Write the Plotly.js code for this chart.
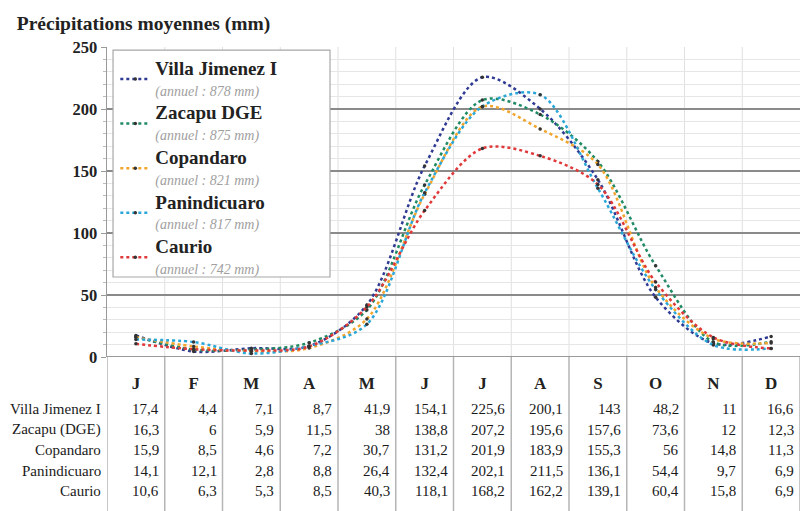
<!DOCTYPE html>
<html>
<head>
<meta charset="utf-8">
<script src="https://cdn.plot.ly/plotly-3.0.1.min.js"></script>
<style>html,body{margin:0;padding:0;background:#fff;}#chart{width:800px;height:511px;}</style>
</head>
<body>
<div id="chart"></div>
<script>
const months = ['J','F','M','A','M','J','J','A','S','O','N','D'];
const stations = ['Villa Jimenez I','Zacapu DGE','Copandaro','Panindicuaro','Caurio'];
const tableLabels = ['Villa Jimenez I','Zacapu (DGE)','Copandaro','Panindicuaro','Caurio'];
const annual = [878, 875, 821, 817, 742];
const villaJimenez = [17.4, 4.4, 7.1, 8.7, 41.9, 154.1, 225.6, 200.1, 143, 48.2, 11, 16.6];
const zacapu = [16.3, 6, 5.9, 11.5, 38, 138.8, 207.2, 195.6, 157.6, 73.6, 12, 12.3];
const copandaro = [15.9, 8.5, 4.6, 7.2, 30.7, 131.2, 201.9, 183.9, 155.3, 56, 14.8, 11.3];
const panindicuaro = [14.1, 12.1, 2.8, 8.8, 26.4, 132.4, 202.1, 211.5, 136.1, 54.4, 9.7, 6.9];
const caurio = [10.6, 6.3, 5.3, 8.5, 40.3, 118.1, 168.2, 162.2, 139.1, 60.4, 15.8, 6.9];
const yTicks = [0, 50, 100, 150, 200, 250];

const series = [villaJimenez, zacapu, copandaro, panindicuaro, caurio];
const colors = ['#2f3a93', '#1f8a63', '#f2a52c', '#2aa7d8', '#e0393a'];
const xIdx = months.map((m, i) => i);

const SERIF = '"Liberation Serif", "DejaVu Serif", serif';

const traces = series.map((vals, k) => ({
  type: 'scatter',
  mode: 'lines+markers',
  x: xIdx,
  y: vals,
  name: '<span style="font-size:19px"><b>' + stations[k] + '</b></span><br><span style="font-size:14px;color:#a0a0a0"><i>(annuel : ' + annual[k] + ' mm)</i></span>',
  line: {color: colors[k], width: 2.5, dash: 'dot', shape: 'spline', smoothing: 0.9},
  marker: {size: 3.5, color: '#333'},
  hoverinfo: 'skip'
}));

const fmt = v => String(v).replace('.', ',');
const rowY = [-0.168, -0.235, -0.300, -0.368, -0.432];
const annotations = [];
series.forEach((vals, r) => {
  annotations.push({
    xref: 'paper', yref: 'paper', x: 0, y: rowY[r], xanchor: 'right', yanchor: 'middle',
    xshift: -4, text: tableLabels[r], showarrow: false,
    font: {family: SERIF, size: 15, color: '#1a1a1a'}
  });
  vals.forEach((v, i) => {
    annotations.push({
      xref: 'x', yref: 'paper', x: i + 0.5, y: rowY[r], xanchor: 'right', yanchor: 'middle',
      xshift: -4, text: fmt(v), showarrow: false,
      font: {family: SERIF, size: 15, color: '#1a1a1a'}
    });
  });
});

const shapes = [];
for (let i = 0; i <= months.length; i++) {
  shapes.push({
    type: 'line', xref: 'x', yref: 'paper', x0: i - 0.5, x1: i - 0.5, y0: 0, y1: -0.5,
    line: {color: '#b5b5b5', width: 1.5}, layer: 'above'
  });
}
// light vertical gridlines at column boundaries inside the plot
for (let i = 1; i < months.length; i++) {
  shapes.push({
    type: 'line', xref: 'x', yref: 'y', x0: i - 0.5, x1: i - 0.5, y0: 0, y1: 250,
    line: {color: '#e0e0e0', width: 1}, layer: 'below'
  });
}
// zero line
shapes.push({type: 'line', xref: 'paper', yref: 'y', x0: 0, x1: 1, y0: 0, y1: 0, line: {color: '#7a7a7a', width: 1.5}, layer: 'above'});
// legend box
shapes.push({type: 'rect', xref: 'paper', yref: 'paper', x0: 0.0087, x1: 0.3218, y0: 0.258, y1: 0.99,
  fillcolor: '#ffffff', line: {color: '#a8a8a8', width: 1.2}, layer: 'above'});

const layout = {
  width: 800, height: 511,
  margin: {l: 107, r: 0, t: 47, b: 154, pad: 0},
  paper_bgcolor: '#fff', plot_bgcolor: '#fff',
  title: {
    text: '<b>Précipitations moyennes (mm)</b>',
    xref: 'container', yref: 'container', x: 0.021, y: 0.955, xanchor: 'left', yanchor: 'middle',
    font: {family: SERIF, size: 19.5, color: '#222'}
  },
  showlegend: true,
  legend: {
    x: 0.012, y: 0.985, xanchor: 'left', yanchor: 'top',
    bgcolor: 'rgba(0,0,0,0)', borderwidth: 0,
    font: {family: SERIF, size: 16, color: '#222'},
    itemwidth: 30, traceorder: 'normal'
  },
  xaxis: {
    type: 'linear', range: [-0.5, 11.5],
    tickmode: 'array', tickvals: xIdx, ticktext: months.map(m => '<b>' + m + '</b>'),
    showgrid: false, zeroline: false, showline: false, ticks: '',
    tickfont: {family: SERIF, size: 17, color: '#222'},
    ticklabelstandoff: 14,
    fixedrange: true
  },
  yaxis: {
    range: [0, 250], tickmode: 'array', tickvals: yTicks, ticktext: yTicks.map(v => '<b>' + v + '</b>'),
    showgrid: true, gridcolor: '#8a8a8a', gridwidth: 1.5,
    zeroline: false, showline: true, linecolor: '#9a9a9a', linewidth: 1.5,
    ticks: 'outside', ticklen: 5, tickcolor: '#9a9a9a',
    minor: {dtick: 10, tick0: 0, showgrid: true, gridcolor: '#e6e6e6', gridwidth: 1, ticks: 'outside', ticklen: 3, tickcolor: '#bbb'},
    tickfont: {family: SERIF, size: 16.5, color: '#222'},
    fixedrange: true
  },
  shapes: shapes,
  annotations: annotations
};

Plotly.newPlot('chart', traces, layout, {displayModeBar: false, staticPlot: true});
</script>
</body>
</html>
